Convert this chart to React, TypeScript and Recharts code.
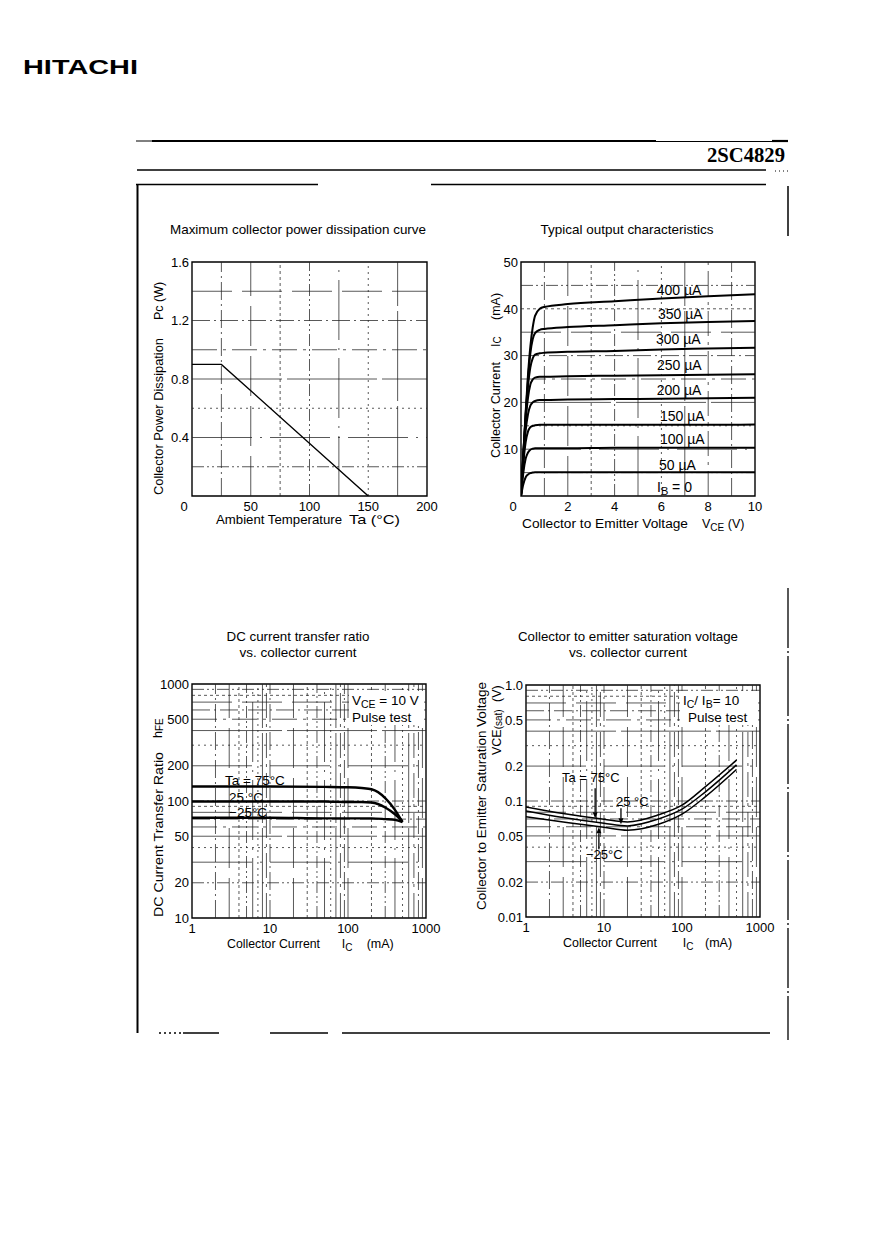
import React from 'react';
import {
  LineChart,
  Line,
  XAxis,
  YAxis,
  ReferenceLine,
  ReferenceArea,
  ReferenceDot,
} from 'recharts';

const FONT = '"Liberation Sans", Arial, Helvetica, sans-serif';
const SERIF = '"Liberation Serif", "Times New Roman", serif';

// Maximum collector power dissipation curve
const pcTemp = [0, 25, 150];
const pcWatt = [0.9, 0.9, 0];
const pcXTicks = [0, 50, 100, 150, 200];
const pcYTicks = [0.4, 0.8, 1.2, 1.6];
const pcGridX = [25, 50, 75, 100, 125, 150, 175];
const pcGridY = [0.2, 0.4, 0.6, 0.8, 1.0, 1.2, 1.4];

// Typical output characteristics (IC in mA against VCE in V)
const vce = [0, 0.1, 0.2, 0.3, 0.4, 0.5, 0.6, 0.8, 1, 2, 4, 6, 8, 10];
const ic50 = [0, 2.5, 4.0, 4.6, 4.9, 5.0, 5.1, 5.1, 5.1, 5.1, 5.1, 5.1, 5.1, 5.1];
const ic100 = [0, 5, 8, 9.3, 9.9, 10.1, 10.2, 10.2, 10.2, 10.2, 10.3, 10.3, 10.3, 10.3];
const ic150 = [0, 7, 11.5, 13.8, 14.7, 15, 15.1, 15.2, 15.2, 15.2, 15.2, 15.2, 15.2, 15.3];
const ic200 = [0, 8, 14, 17.5, 19.3, 20, 20.3, 20.5, 20.5, 20.6, 20.7, 20.8, 20.9, 21.0];
const ic250 = [0, 8.5, 16, 21, 23.8, 24.9, 25.3, 25.5, 25.5, 25.6, 25.7, 25.8, 25.9, 26.0];
const ic300 = [0, 9, 17, 23.5, 27.5, 29.4, 30.2, 30.5, 30.6, 30.8, 31.0, 31.3, 31.5, 31.7];
const ic350 = [0, 9, 17.5, 25, 30.5, 33.5, 34.8, 35.5, 35.7, 36.1, 36.5, 36.9, 37.2, 37.4];
const ic400 = [0, 9, 18, 26, 32, 36, 38.5, 40.0, 40.4, 41.0, 41.6, 42.2, 42.7, 43.1];
const ibCurves = [ic50, ic100, ic150, ic200, ic250, ic300, ic350, ic400];
const ibNames = ['400 µA', '350 µA', '300 µA', '250 µA', '200 µA', '150 µA', '100 µA', '50 µA'];
const outXTicks = [0, 2, 4, 6, 8, 10];
const outYTicks = [10, 20, 30, 40, 50];
const outGridX = [1, 2, 3, 4, 5, 6, 7, 8, 9];
const outGridY = [5, 10, 15, 20, 25, 30, 35, 40, 45];

// DC current transfer ratio vs collector current
const hfeIc = [1, 10, 50, 100, 150, 200, 300, 400, 500];
const hfe75 = [133, 133, 132, 131, 129, 126, 106, 84, 66];
const hfe25 = [99, 99, 99, 98, 98, 97, 88, 77, 67];
const hfeM25 = [72, 72, 71, 71, 71, 71, 70, 69, 66];
const logXTicks = [1, 10, 100, 1000];
const logGridX = [2, 3, 4, 5, 6, 7, 8, 9, 10, 20, 30, 40, 50, 60, 70, 80, 90, 100, 200, 300, 400, 500, 600, 700, 800, 900];
const hfeYTicks = [10, 20, 50, 100, 200, 500, 1000];
const hfeGridY = [20, 30, 40, 50, 60, 70, 80, 90, 100, 200, 300, 400, 500, 600, 700, 800, 900];

// Collector to emitter saturation voltage vs collector current
const satIc = [1, 3, 10, 20, 50, 100, 200, 500];
const sat75 = [0.089, 0.078, 0.0695, 0.066, 0.076, 0.092, 0.133, 0.225];
const sat25 = [0.082, 0.072, 0.0643, 0.061, 0.07, 0.085, 0.12, 0.205];
const satM25 = [0.073, 0.066, 0.0593, 0.056, 0.063, 0.077, 0.109, 0.187];
const satYTicks = [0.01, 0.02, 0.05, 0.1, 0.2, 0.5, 1];
const satGridY = [0.02, 0.03, 0.04, 0.05, 0.06, 0.07, 0.08, 0.09, 0.1, 0.2, 0.3, 0.4, 0.5, 0.6, 0.7, 0.8, 0.9];
const satArrowIc = [7.7, 16.5, 8.6];
const satArrowV = [0.071, 0.063, 0.0595];

const YW = 60;
const XH = 30;
const PAD = 10;
const PAD_R = 24;
const DASHES = ['18 4 2 4', '40 10', '3 3', '12 3 2 3 2 3', '60 8 2 8', '2 4', '90 5', '25 6 3 6'];

type Plot = { x0: number; y0: number; x1: number; y1: number };

const toXY = (xs: number[], ys: number[]) => xs.map((x, i) => ({ x, y: ys[i] }));

const xTick = (shiftZero: boolean) => (p: any) => {
  const dx = shiftZero && p.payload.value === 0 ? -8 : 0;
  return (
    <text x={p.x + dx} y={p.y + 15} textAnchor="middle" fontSize={13} fontFamily={FONT} fill="#000">
      {p.payload.value}
    </text>
  );
};

const yTick = (fmt?: (v: number) => string) => (p: any) => (
  <text x={p.x - 3} y={p.y + 4.7} textAnchor="end" fontSize={13} fontFamily={FONT} fill="#000">
    {fmt ? fmt(p.payload.value) : p.payload.value}
  </text>
);

const gridLines = (xs: number[], ys: number[]) => [
  ...xs.map((v, i) => (
    <ReferenceLine key={'gx' + i} x={v} stroke="#222" strokeWidth={0.75} strokeDasharray={DASHES[i % DASHES.length]} />
  )),
  ...ys.map((v, i) => (
    <ReferenceLine key={'gy' + i} y={v} stroke="#222" strokeWidth={0.75} strokeDasharray={DASHES[(i + 3) % DASHES.length]} />
  )),
];

const arrowShape = (len: number, up: boolean) => (p: any) => {
  const { cx, cy } = p;
  const s = up ? 1 : -1;
  const tail = cy + s * len;
  const hb = cy + s * 6;
  return (
    <g>
      <line x1={cx} y1={tail} x2={cx} y2={hb} stroke="#000" strokeWidth={1.3} />
      <path d={`M${cx - 2.5},${hb} L${cx + 2.5},${hb} L${cx},${cy} Z`} fill="#000" />
    </g>
  );
};

function Chart(props: {
  plot: Plot;
  xDomain: number[];
  yDomain: number[];
  xTicks: number[];
  yTicks: number[];
  log?: boolean;
  gridX: number[];
  gridY: number[];
  shiftZero?: boolean;
  yFmt?: (v: number) => string;
  children: React.ReactNode;
}) {
  const { plot, xDomain, yDomain, log } = props;
  const width = plot.x1 - plot.x0 + YW + PAD + PAD_R;
  const height = plot.y1 - plot.y0 + XH + 2 * PAD;
  return (
    <div style={{ position: 'absolute', left: plot.x0 - YW - PAD, top: plot.y0 - PAD, width, height }}>
      <LineChart width={width} height={height} margin={{ top: PAD, right: PAD_R, bottom: PAD, left: PAD }}>
        <XAxis
          type="number"
          dataKey="x"
          domain={xDomain}
          ticks={props.xTicks}
          scale={log ? 'log' : 'linear'}
          allowDataOverflow
          interval={0}
          axisLine={false}
          tickLine={false}
          tickSize={0}
          tickMargin={0}
          height={XH}
          tick={xTick(!!props.shiftZero)}
        />
        <YAxis
          type="number"
          dataKey="y"
          domain={yDomain}
          ticks={props.yTicks}
          scale={log ? 'log' : 'linear'}
          allowDataOverflow
          interval={0}
          axisLine={false}
          tickLine={false}
          tickSize={0}
          tickMargin={0}
          width={YW}
          tick={yTick(props.yFmt)}
        />
        {gridLines(props.gridX, props.gridY)}
        {props.children}
        <ReferenceArea
          x1={xDomain[0]}
          x2={xDomain[1]}
          y1={yDomain[0]}
          y2={yDomain[1]}
          fill="none"
          fillOpacity={0}
          stroke="#000"
          strokeWidth={1.4}
          ifOverflow="visible"
        />
      </LineChart>
    </div>
  );
}

const Tx = ({
  x,
  y,
  size = 12.5,
  anchor = 'start',
  rot = false,
  len,
  children,
}: {
  x: number;
  y: number;
  size?: number;
  anchor?: 'start' | 'middle' | 'end';
  rot?: boolean;
  len?: number;
  children: React.ReactNode;
}) => (
  <text
    x={x}
    y={y}
    fontSize={size}
    fontFamily={FONT}
    fill="#000"
    textAnchor={anchor}
    textLength={len}
    lengthAdjust={len ? 'spacingAndGlyphs' : undefined}
    transform={rot ? `rotate(-90 ${x} ${y})` : undefined}
  >
    {children}
  </text>
);

const Sub = ({ children, size = 10, d = 3 }: { children: React.ReactNode; size?: number; d?: number }) => (
  <tspan fontSize={size} dy={d}>
    {children}
  </tspan>
);

const ibLabelX = [656.7, 658, 656, 657, 656.7, 660, 660, 659];
const ibLabelY = [295, 319, 344, 370, 395, 421, 444, 470];

export default function App() {
  return (
    <div style={{ position: 'absolute', left: 0, top: 0, width: 891, height: 1243, background: '#fff', overflow: 'hidden' }}>
      <Chart
        plot={{ x0: 192, y0: 262, x1: 427, y1: 496 }}
        xDomain={[0, 200]}
        yDomain={[0, 1.6]}
        xTicks={pcXTicks}
        yTicks={pcYTicks}
        gridX={pcGridX}
        gridY={pcGridY}
        shiftZero
      >
        <Line
          data={toXY(pcTemp, pcWatt)}
          dataKey="y"
          type="linear"
          stroke="#000"
          strokeWidth={1.4}
          dot={false}
          isAnimationActive={false}
        />
      </Chart>

      <Chart
        plot={{ x0: 521, y0: 262, x1: 755, y1: 496 }}
        xDomain={[0, 10]}
        yDomain={[0, 50]}
        xTicks={outXTicks}
        yTicks={outYTicks}
        gridX={outGridX}
        gridY={outGridY}
        shiftZero
      >
        {ibCurves.map((c, i) => (
          <Line
            key={'ib' + i}
            data={toXY(vce, c)}
            dataKey="y"
            type="monotone"
            stroke="#000"
            strokeWidth={2}
            dot={false}
            isAnimationActive={false}
          />
        ))}
      </Chart>

      <Chart
        plot={{ x0: 192, y0: 684, x1: 426, y1: 918 }}
        xDomain={[1, 1000]}
        yDomain={[10, 1000]}
        xTicks={logXTicks}
        yTicks={hfeYTicks}
        gridX={logGridX}
        gridY={hfeGridY}
        log
      >
        {[hfe75, hfe25, hfeM25].map((c, i) => (
          <Line
            key={'h' + i}
            data={toXY(hfeIc, c)}
            dataKey="y"
            type="monotone"
            stroke="#000"
            strokeWidth={2.4}
            dot={false}
            isAnimationActive={false}
          />
        ))}
      </Chart>

      <Chart
        plot={{ x0: 526, y0: 685, x1: 760, y1: 917 }}
        xDomain={[1, 1000]}
        yDomain={[0.01, 1]}
        xTicks={logXTicks}
        yTicks={satYTicks}
        gridX={logGridX}
        gridY={satGridY}
        yFmt={(v) => (v === 1 ? '1.0' : String(v))}
        log
      >
        {[sat75, sat25, satM25].map((c, i) => (
          <Line
            key={'s' + i}
            data={toXY(satIc, c)}
            dataKey="y"
            type="monotone"
            stroke="#000"
            strokeWidth={1.5}
            dot={false}
            isAnimationActive={false}
          />
        ))}
        {satArrowIc.map((v, i) => (
          <ReferenceDot
            key={'a' + i}
            x={v}
            y={satArrowV[i]}
            r={0}
            ifOverflow="visible"
            shape={arrowShape([30, 16, 22][i], i === 2)}
          />
        ))}
      </Chart>

      <svg width={891} height={1243} style={{ position: 'absolute', left: 0, top: 0, pointerEvents: 'none' }}>
        {/* page header and frame */}
        <text x={23} y={74} fontSize={21} fontWeight={700} fontFamily={FONT} textLength={115} lengthAdjust="spacingAndGlyphs">
          HITACHI
        </text>
        <line x1={136} y1={141} x2={152} y2={141} stroke="#000" strokeWidth={1} />
        <line x1={152} y1={141} x2={656} y2={141} stroke="#000" strokeWidth={2.2} />
        <line x1={656} y1={141.5} x2={772} y2={141.5} stroke="#000" strokeWidth={1} />
        <line x1={772} y1={141} x2={788} y2={141} stroke="#000" strokeWidth={2.2} />
        <text x={785} y={162} fontSize={20} fontWeight={700} fontFamily={SERIF} textAnchor="end" textLength={78} lengthAdjust="spacingAndGlyphs">
          2SC4829
        </text>
        <line x1={137} y1={170} x2={766} y2={170} stroke="#000" strokeWidth={1.3} />
        <line x1={775} y1={171} x2={790} y2={171} stroke="#000" strokeWidth={1} strokeDasharray="1 3" />
        <line x1={136} y1={184.5} x2={318} y2={184.5} stroke="#000" strokeWidth={1.3} />
        <line x1={431} y1={184.5} x2={766} y2={184.5} stroke="#000" strokeWidth={1.3} />
        <line x1={137.5} y1={184} x2={137.5} y2={1033} stroke="#000" strokeWidth={2} />
        <line x1={788} y1={186} x2={788} y2={236} stroke="#000" strokeWidth={1.5} />
        <line x1={788} y1={588} x2={788} y2={1040} stroke="#000" strokeWidth={1.3} strokeDasharray="60 3 2 3" />
        <line x1={159} y1={1033} x2={181} y2={1033} stroke="#000" strokeWidth={1.3} strokeDasharray="2 3" />
        <line x1={183} y1={1033} x2={219} y2={1033} stroke="#000" strokeWidth={1.3} />
        <line x1={270} y1={1033} x2={328} y2={1033} stroke="#000" strokeWidth={1.3} />
        <line x1={342} y1={1033} x2={770} y2={1033} stroke="#000" strokeWidth={1.3} />

        {/* chart titles */}
        <Tx x={298} y={234} size={13} anchor="middle" len={256}>Maximum collector power dissipation curve</Tx>
        <Tx x={627} y={234} size={13} anchor="middle" len={173}>Typical output characteristics</Tx>
        <Tx x={298} y={641} size={13} anchor="middle" len={143}>DC current transfer ratio</Tx>
        <Tx x={298} y={657} size={13} anchor="middle" len={117}>vs. collector current</Tx>
        <Tx x={628} y={641} size={13} anchor="middle" len={220}>Collector to emitter saturation voltage</Tx>
        <Tx x={628} y={657} size={13} anchor="middle" len={118}>vs. collector current</Tx>

        {/* axis titles */}
        <Tx x={216} y={524} len={126}>Ambient Temperature</Tx>
        <Tx x={349} y={524} size={13} len={51}>Ta (°C)</Tx>
        <Tx x={163} y={495} rot len={157}>Collector Power Dissipation</Tx>
        <Tx x={163} y={320} rot>Pc (W)</Tx>

        <Tx x={522} y={528} len={166}>Collector to Emitter Voltage</Tx>
        <Tx x={702} y={528}>
          V<Sub>CE</Sub>
          <tspan dy={-3}> (V)</tspan>
        </Tx>
        <Tx x={499.5} y={458} rot len={96}>Collector Current</Tx>
        <Tx x={499.5} y={347} rot>
          I<Sub d={1.5}>C</Sub>
        </Tx>
        <Tx x={499.5} y={320} rot>(mA)</Tx>

        <Tx x={227} y={948} len={93}>Collector Current</Tx>
        <Tx x={341.7} y={948}>
          I<Sub>C</Sub>
        </Tx>
        <Tx x={366.7} y={948}>(mA)</Tx>
        <Tx x={163} y={917} rot len={165}>DC Current Transfer Ratio</Tx>
        <Tx x={162} y={738} rot>
          h<Sub d={1}>FE</Sub>
        </Tx>

        <Tx x={563} y={947} len={94}>Collector Current</Tx>
        <Tx x={682.7} y={947}>
          I<Sub>C</Sub>
        </Tx>
        <Tx x={705} y={947}>(mA)</Tx>
        <Tx x={486} y={910} rot len={228}>Collector to Emitter Saturation Voltage</Tx>
        <Tx x={501} y={755} rot>
          VCE<tspan fontSize={10} dy={1}>(sat)</tspan>
        </Tx>
        <Tx x={501} y={702} rot>(V)</Tx>

        {/* output characteristic labels */}
        {ibNames.map((n, i) => (
          <Tx key={n} x={ibLabelX[i]} y={ibLabelY[i]} size={14}>
            {n}
          </Tx>
        ))}
        <Tx x={657} y={492} size={14}>
          I<Sub size={11}>B</Sub>
          <tspan dy={-3}> = 0</tspan>
        </Tx>

        {/* hFE annotations */}
        <rect x={349} y={691} width={75} height={34} fill="#fff" />
        <Tx x={352} y={705} size={13.5}>
          V<Sub size={10.5}>CE</Sub>
          <tspan dy={-3}> = 10 V</tspan>
        </Tx>
        <Tx x={352} y={722} size={13.5}>Pulse test</Tx>
        <Tx x={225} y={785} size={13.5}>Ta = 75°C</Tx>
        <Tx x={229} y={801.5} size={13.5}>25 °C</Tx>
        <Tx x={229} y={817} size={13.5}>−25°C</Tx>

        {/* VCE(sat) annotations */}
        <rect x={680} y={691} width={78} height={34} fill="#fff" />
        <Tx x={683} y={705} size={13.5}>
          I<Sub size={10.5}>C</Sub>
          <tspan dy={-3}>/ I</tspan>
          <Sub size={10.5}>B</Sub>
          <tspan dy={-3}>= 10</tspan>
        </Tx>
        <Tx x={688} y={722} size={13.5}>Pulse test</Tx>
        <Tx x={562} y={782} size={13}>Ta = 75°C</Tx>
        <Tx x={616} y={806} size={13}>25 °C</Tx>
        <Tx x={586} y={859} size={13}>−25°C</Tx>
      </svg>
    </div>
  );
}
